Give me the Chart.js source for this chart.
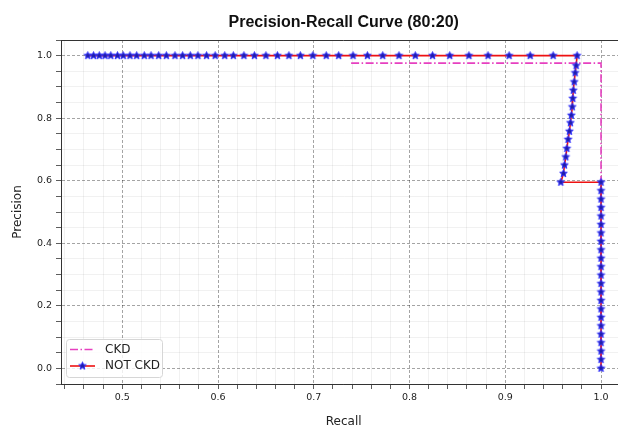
<!DOCTYPE html>
<html>
<head>
<meta charset="utf-8">
<script src="https://cdn.jsdelivr.net/npm/chart.js@4.4.0/dist/chart.umd.min.js"></script>
<style>
  html, body { margin: 0; padding: 0; background: #fff; overflow: hidden; }
  #wrap { width: 632px; height: 427px; }
  #prCurve { width: 632px; height: 427px; display: block; }
</style>
</head>
<body>
<div id="wrap"><canvas id="prCurve" width="632" height="427"></canvas></div>
<script>
// values
const notCkdRecall = [
    0.464, 0.470, 0.476, 0.482, 0.488, 0.495, 0.501, 0.508, 0.515, 0.523,
    0.530, 0.538, 0.546, 0.555, 0.563, 0.571, 0.579, 0.588, 0.597, 0.607,
    0.616, 0.627, 0.638, 0.650, 0.662, 0.674, 0.686, 0.699, 0.713, 0.726,
    0.741, 0.756, 0.772, 0.789, 0.806, 0.824, 0.842, 0.862, 0.882, 0.904,
    0.926, 0.950, 0.975,
    0.974, 0.973, 0.972, 0.971, 0.9705, 0.970, 0.969, 0.968, 0.967, 0.9656,
    0.9643, 0.9632, 0.9618, 0.9608, 0.958,
    1.0, 1.0, 1.0, 1.0, 1.0, 1.0, 1.0, 1.0, 1.0, 1.0, 1.0, 1.0,
    1.0, 1.0, 1.0, 1.0, 1.0, 1.0, 1.0, 1.0, 1.0, 1.0, 1.0
];
const notCkdPrecision = [
    1.0, 1.0, 1.0, 1.0, 1.0, 1.0, 1.0, 1.0, 1.0, 1.0,
    1.0, 1.0, 1.0, 1.0, 1.0, 1.0, 1.0, 1.0, 1.0, 1.0,
    1.0, 1.0, 1.0, 1.0, 1.0, 1.0, 1.0, 1.0, 1.0, 1.0,
    1.0, 1.0, 1.0, 1.0, 1.0, 1.0, 1.0, 1.0, 1.0, 1.0,
    1.0, 1.0, 1.0,
    0.968, 0.945, 0.916, 0.889, 0.863, 0.836, 0.809, 0.785, 0.758, 0.732,
    0.703, 0.676, 0.650, 0.623, 0.595,
    0.595, 0.568, 0.541, 0.514, 0.487, 0.460, 0.433, 0.406, 0.379, 0.352, 0.325, 0.298,
    0.271, 0.244, 0.217, 0.190, 0.163, 0.136, 0.109, 0.082, 0.055, 0.028, 0.0
];
const ckdRecall = [0.739, 1.0, 1.0];
const ckdPrecision = [0.976, 0.976, 0.0];

const seriesNames = ['CKD', 'NOT CKD'];
const xMajorTicks = [0.5, 0.6, 0.7, 0.8, 0.9, 1.0];
const xTickLabels = ['0.5', '0.6', '0.7', '0.8', '0.9', '1.0'];
const yMajorTicks = [0.0, 0.2, 0.4, 0.6, 0.8, 1.0];
const yTickLabels = ['0.0', '0.2', '0.4', '0.6', '0.8', '1.0'];

const FONT = 'DejaVu Sans';
const CKD_COLOR = '#e640c0';
const LINE_RED = '#ee1111';

function majorIndex(v, majors) {
    return majors.findIndex(m => Math.abs(m - v) < 1e-6);
}

// filled five point star, like the matplotlib '*' marker
function makeStar(r) {
    const c = document.createElement('canvas');
    const s = Math.ceil(r * 2 + 3);
    c.width = s;
    c.height = s;
    const g = c.getContext('2d');
    g.beginPath();
    for (let i = 0; i < 10; i++) {
        const a = -Math.PI / 2 + i * Math.PI / 5;
        const rr = i % 2 === 0 ? r : r * 0.45;
        g.lineTo(s / 2 + rr * Math.cos(a), s / 2 + rr * Math.sin(a));
    }
    g.closePath();
    g.fillStyle = '#1e1ea8';
    g.fill();
    g.strokeStyle = '#3333ff';
    g.lineWidth = 1;
    g.stroke();
    return c;
}
const starImg = makeStar(4);

const extras = {
    id: 'extras',
    afterDraw(chart) {
        const ctx = chart.ctx;
        const a = chart.chartArea;
        ctx.save();
        // top and right spines
        ctx.strokeStyle = '#333';
        ctx.lineWidth = 1;
        ctx.beginPath();
        ctx.moveTo(a.left, a.top + 0.5);
        ctx.lineTo(a.right, a.top + 0.5);
        ctx.moveTo(a.right - 0.5, a.top);
        ctx.lineTo(a.right - 0.5, a.bottom);
        ctx.stroke();

        // title
        ctx.fillStyle = '#111';
        ctx.font = 'bold 16px "Liberation Sans", Arial, sans-serif';
        ctx.textAlign = 'center';
        ctx.textBaseline = 'alphabetic';
        ctx.fillText('Precision-Recall Curve (80:20)', (a.left + a.right) / 2, 26.5);

        // legend in lower left
        const bx = a.left + 5, by = a.bottom - 45, bw = 96, bh = 38;
        ctx.beginPath();
        ctx.roundRect(bx + 0.5, by + 0.5, bw, bh, 3);
        ctx.fillStyle = 'rgba(255,255,255,0.8)';
        ctx.fill();
        ctx.strokeStyle = '#d6d6d6';
        ctx.stroke();

        const lx1 = bx + 4, lx2 = bx + 29, tx = bx + 39;
        const y1 = by + 10.5, y2 = by + 27;
        ctx.strokeStyle = CKD_COLOR;
        ctx.lineWidth = 1.6;
        ctx.setLineDash([8, 2.5, 1.5, 2.5]);
        ctx.beginPath();
        ctx.moveTo(lx1, y1);
        ctx.lineTo(lx2, y1);
        ctx.stroke();
        ctx.setLineDash([]);
        ctx.strokeStyle = LINE_RED;
        ctx.beginPath();
        ctx.moveTo(lx1, y2);
        ctx.lineTo(lx2, y2);
        ctx.stroke();
        ctx.drawImage(starImg, (lx1 + lx2) / 2 - starImg.width / 2, y2 - starImg.height / 2);

        ctx.fillStyle = '#222';
        ctx.font = '12px "' + FONT + '"';
        ctx.textAlign = 'left';
        ctx.textBaseline = 'middle';
        ctx.fillText(seriesNames[0], tx, y1);
        ctx.fillText(seriesNames[1], tx, y2);
        ctx.restore();
    }
};

const ctx1 = document.getElementById('prCurve').getContext('2d');
const prCurve = new Chart(ctx1, {
    type: 'scatter',
    data: {
        datasets: [{
            label: seriesNames[0],
            data: ckdRecall.map((r, i) => ({ x: r, y: ckdPrecision[i] })),
            showLine: true,
            borderColor: CKD_COLOR,
            borderWidth: 1.6,
            borderDash: [8, 2.5, 1.5, 2.5],
            pointRadius: 0,
            tension: 0,
            order: 2
        }, {
            label: seriesNames[1],
            data: notCkdRecall.map((r, i) => ({ x: r, y: notCkdPrecision[i] })),
            showLine: true,
            borderColor: LINE_RED,
            borderWidth: 1.6,
            pointStyle: starImg,
            pointRadius: 3.5,
            tension: 0,
            order: 1
        }]
    },
    options: {
        responsive: false,
        animation: false,
        layout: { padding: { top: 40, right: 3, left: 0, bottom: 0 } },
        plugins: {
            legend: { display: false },
            title: { display: false },
            tooltip: { enabled: false }
        },
        scales: {
            x: {
                type: 'linear',
                min: 0.436,
                max: 1.0265,
                afterFit: s => { s.height = 43; },
                ticks: {
                    stepSize: 0.02,
                    includeBounds: false,
                    autoSkip: false,
                    maxRotation: 0,
                    padding: 3,
                    color: '#222',
                    font: { family: FONT, size: 9.5 },
                    callback: v => {
                        const k = majorIndex(v, xMajorTicks);
                        return k >= 0 ? xTickLabels[k] : '';
                    }
                },
                grid: {
                    color: c => (c.tick && majorIndex(c.tick.value, xMajorTicks) >= 0) ? 'rgba(0,0,0,0.45)' : 'rgba(0,0,0,0.07)',
                    lineWidth: 0.8,
                    tickLength: 5,
                    tickColor: '#333'
                },
                border: {
                    color: '#333',
                    width: 1,
                    dash: c => (c.tick && majorIndex(c.tick.value, xMajorTicks) >= 0) ? [3, 2] : []
                },
                title: {
                    display: true,
                    text: 'Recall',
                    color: '#222',
                    font: { family: FONT, size: 12 },
                    padding: { top: 0, bottom: -2 }
                }
            },
            y: {
                type: 'linear',
                min: -0.05,
                max: 1.05,
                afterFit: s => { s.width = 61; },
                ticks: {
                    stepSize: 0.05,
                    includeBounds: false,
                    autoSkip: false,
                    padding: 4,
                    color: '#222',
                    font: { family: FONT, size: 9.5 },
                    callback: v => {
                        const k = majorIndex(v, yMajorTicks);
                        return k >= 0 ? yTickLabels[k] : '';
                    }
                },
                grid: {
                    color: c => (c.tick && majorIndex(c.tick.value, yMajorTicks) >= 0) ? 'rgba(0,0,0,0.45)' : 'rgba(0,0,0,0.07)',
                    lineWidth: 0.8,
                    tickLength: 5,
                    tickColor: '#333'
                },
                border: {
                    color: '#333',
                    width: 1,
                    dash: c => (c.tick && majorIndex(c.tick.value, yMajorTicks) >= 0) ? [3, 2] : []
                },
                title: {
                    display: true,
                    text: 'Precision',
                    color: '#222',
                    font: { family: FONT, size: 12 },
                    padding: { top: 11, bottom: 0 }
                }
            }
        }
    },
    plugins: [extras]
});
</script>
</body>
</html>
